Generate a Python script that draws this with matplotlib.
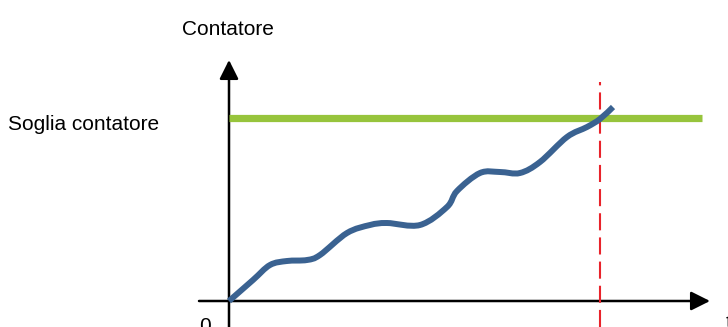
import matplotlib
matplotlib.use("Agg")
import matplotlib.pyplot as plt
from matplotlib.path import Path
from matplotlib.patches import PathPatch

# Counter value over time (chart units, origin at the axes crossing)
time_vals = [0, 24, 41, 58, 78, 91, 118, 141, 158, 191, 218, 228, 251, 271, 291, 311, 338, 358, 371, 384]
count_vals = [0, 21, 36, 40, 41, 46, 68, 76, 78, 76, 94, 110, 128, 129, 128, 139, 164, 174, 182, 194]

threshold = 183
threshold_end = 473
crossing_time = 371

y_label = "Contatore"
threshold_label = "Soglia contatore"
origin_label = "0"
x_label = "t"

BLUE = "#3A6291"
GREEN = "#97C43C"
RED = "#E8232B"
FONT = "Liberation Sans"


def smooth_path(xs, ys, tension=1 / 6):
    """Cubic Bezier path through the points (Catmull-Rom style handles)."""
    pts = list(zip(xs, ys))
    verts = [pts[0]]
    codes = [Path.MOVETO]
    n = len(pts)
    for i in range(n - 1):
        p0 = pts[i - 1] if i > 0 else pts[i]
        p1 = pts[i]
        p2 = pts[i + 1]
        p3 = pts[i + 2] if i + 2 < n else pts[i + 1]
        c1 = (p1[0] + (p2[0] - p0[0]) * tension, p1[1] + (p2[1] - p0[1]) * tension)
        c2 = (p2[0] - (p3[0] - p1[0]) * tension, p2[1] - (p3[1] - p1[1]) * tension)
        verts += [c1, c2, p2]
        codes += [Path.CURVE4] * 3
    return Path(verts, codes)


fig = plt.figure(figsize=(7.28, 3.27), dpi=100)
ax = fig.add_axes([0, 0, 1, 1])
ax.set_xlim(-229, 499)
ax.set_ylim(-26, 301)
ax.axis("off")

arrow = dict(arrowstyle="-|>,head_length=0.8,head_width=0.4", mutation_scale=14.4,
             lw=1.8, color="black", shrinkA=0, shrinkB=0)
# axes with arrow heads
ax.annotate("", xy=(0, 241), xytext=(0, -26), arrowprops=arrow, zorder=2)
ax.annotate("", xy=(481, 0), xytext=(-30, 0), arrowprops=arrow, zorder=2)

# threshold level
ax.plot([0, threshold_end], [threshold, threshold], color=GREEN, lw=5.2,
        solid_capstyle="butt", zorder=3)

# moment the threshold is reached
ax.plot([crossing_time, crossing_time], [-26, 219], color=RED, lw=1.5,
        dashes=(8.2, 3.4), zorder=4)

# counter curve
ax.add_patch(PathPatch(smooth_path(time_vals, count_vals), facecolor="none",
                       edgecolor=BLUE, lw=4.3, joinstyle="round", capstyle="butt",
                       zorder=5))

ax.text(-1.5, 266, y_label, ha="center", va="baseline", fontsize=15, family=FONT)
ax.text(-221, 171, threshold_label, ha="left", va="baseline", fontsize=15, family=FONT)
ax.text(-30, -31, origin_label, ha="left", va="baseline", fontsize=15, family=FONT)
ax.text(497, -27, x_label, ha="left", va="baseline", fontsize=15, family=FONT)

fig.savefig("out.png", dpi=100)
